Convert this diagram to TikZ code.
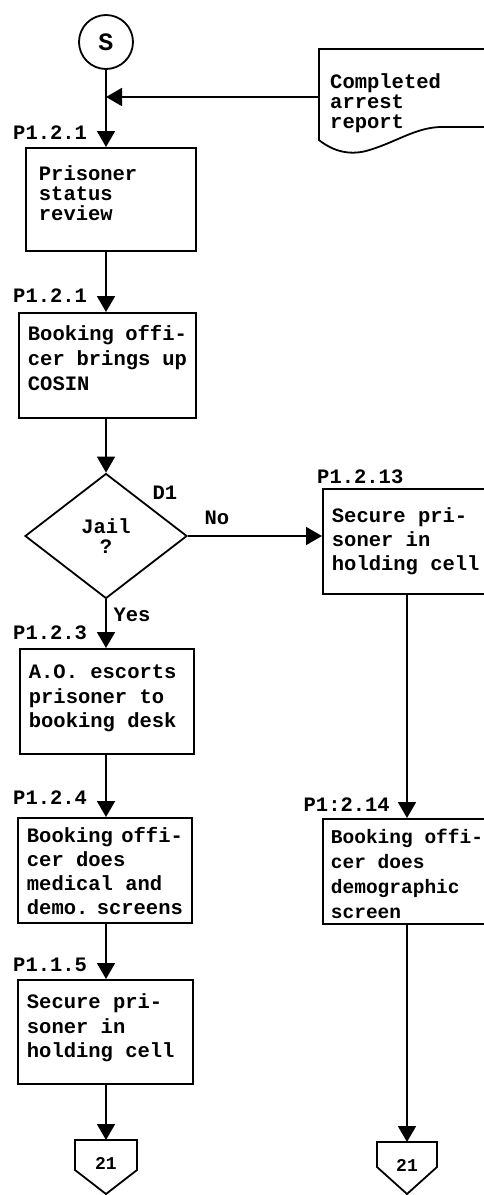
\documentclass[tikz,border=0pt]{standalone}
\usepackage{fontspec}
\setmainfont{Liberation Mono}
\usetikzlibrary{arrows.meta,shapes.geometric}
\exhyphenpenalty=10000
\hyphenpenalty=10000
\hbadness=10000
\hfuzz=50pt
\tikzset{
  x=1pt, y=-1pt,
  every node/.style={font=\fontsize{20.5}{24.5}\selectfont\bfseries},
  ln/.style={line width=1.8pt},
  arr/.style={line width=1.8pt, -{Triangle[width=18pt,length=16pt]}},
  box/.style={draw, line width=1.8pt, rectangle, anchor=north west,
              inner xsep=9pt, inner ysep=0pt},
  lbl/.style={inner sep=0pt},
}
\newcommand\bxt[4]{\parbox[c][#1][t]{#2}{\raggedright\rule{0pt}{#3}#4}}
\begin{document}
\begin{tikzpicture}
\useasboundingbox (0,0) rectangle (484,1195);
\clip (0,0) rectangle (484,1195);

% start
\node[draw, circle, minimum size=54pt, inner sep=0pt, line width=1.8pt, font=\fontsize{25}{25}\selectfont\bfseries] (S) at (106,42) {S};
\coordinate (m) at (106,97);

% document
\node[lbl, anchor=north west, align=left, font=\fontsize{20.5}{20}\selectfont\bfseries] (doctxt) at (330,73) {Completed\\arrest\\report};
\coordinate (docL) at (319,97);
\draw[ln] (495,49) -- (319,49) -- (319,140)
  .. controls (334,152) and (350,155) .. (366,151)
  .. controls (395,143) and (414,128) .. (440,127) -- (495,127);

% left column
\node[box, inner xsep=13pt, minimum height=103pt, font=\fontsize{20.5}{20}\selectfont\bfseries] (b1) at (25,147)
  {\bxt{103pt}{144pt}{33pt}{Prisoner\\status\\review}};
\node[box, minimum height=105pt, font=\fontsize{20.5}{25}\selectfont\bfseries] (b2) at (18,312)
  {\bxt{105pt}{159pt}{28pt}{Booking~offi-\\cer~brings~up\\COSIN}};
\node[draw, diamond, line width=1.8pt, minimum width=162pt, minimum height=125pt, inner sep=0pt, align=center, font=\fontsize{20.5}{20}\selectfont\bfseries] (d) at (106,536) {Jail\\?};
\node[box, minimum height=105pt] (b3) at (19,648)
  {\bxt{105pt}{156pt}{30pt}{A.O.~escorts\\prisoner~to\\booking~desk}};
\node[box, minimum height=105pt, font=\fontsize{20.5}{24}\selectfont\bfseries] (b4) at (17,817)
  {\bxt{105pt}{156pt}{25pt}{Booking~offi-\\cer~does\\medical~and\\demo.~screens}};
\node[box, minimum height=104pt] (b5) at (17,979)
  {\bxt{104pt}{157pt}{29pt}{Secure~pri-\\soner~in\\holding~cell}};

% right column
\node[box, minimum height=105pt, font=\fontsize{20.5}{24}\selectfont\bfseries] (r1) at (322,488)
  {\bxt{105pt}{152pt}{34pt}{Secure~pri-\\soner~in\\holding~cell}};
\node[box, inner xsep=8pt, minimum height=105pt, font=\fontsize{19.5}{25}\selectfont\bfseries] (r2) at (322,818)
  {\bxt{105pt}{154pt}{25pt}{Booking~offi-\\cer~does\\demographic\\screen}};

% off-page connectors
\node[lbl, font=\fontsize{18}{18}\selectfont\bfseries] (c1) at (106,1163) {21};
\coordinate (c1top) at (106,1140);
\draw[ln] (75,1140) -- (137,1140) -- (137,1170) -- (106,1194) -- (75,1170) -- cycle;
\node[lbl, font=\fontsize{18}{18}\selectfont\bfseries] (c2) at (407,1165) {21};
\coordinate (c2top) at (407,1142);
\draw[ln] (377,1142) -- (437,1142) -- (437,1167) -- (407,1194) -- (377,1167) -- cycle;

% labels
\node[lbl, anchor=west] (l1) at (13,133) {P1.2.1};
\node[lbl, anchor=west] (l2) at (13,296) {P1.2.1};
\node[lbl, anchor=west] (l3) at (13,633) {P1.2.3};
\node[lbl, anchor=west] (l4) at (13,798) {P1.2.4};
\node[lbl, anchor=west] (l5) at (13,965) {P1.1.5};
\node[lbl, anchor=west] (l6) at (317,477) {P1.2.13};
\node[lbl, anchor=east] (l7) at (390,805) {P1:2.14};
\node[lbl] (dl) at (165,493) {D1};
\node[lbl] (no) at (217,518) {No};
\node[lbl] (yes) at (132,615) {Yes};

% connectors
\draw[arr] (S.south) -- (S |- b1.north);
\draw[arr] (docL) -- (m);
\draw[arr] (S |- b1.south) -- (S |- b2.north);
\draw[arr] (S |- b2.south) -- (d.north);
\draw[arr] (d.south) -- (S |- b3.north);
\draw[arr] (d.east) -- (d.east -| r1.west);
\draw[arr] (S |- b3.south) -- (S |- b4.north);
\draw[arr] (S |- b4.south) -- (S |- b5.north);
\draw[arr] (S |- b5.south) -- (c1top);
\draw[arr] (c2top |- r1.south) -- (c2top |- r2.north);
\draw[arr] (c2top |- r2.south) -- (c2top);
\end{tikzpicture}
\end{document}
